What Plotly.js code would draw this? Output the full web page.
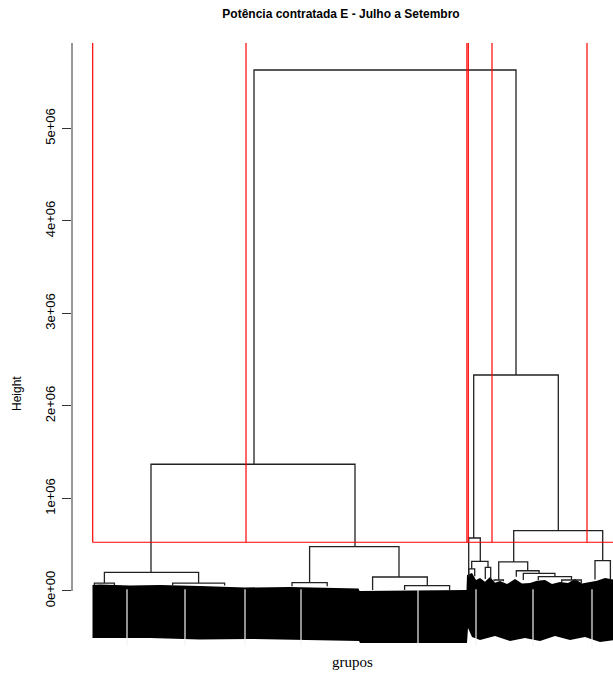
<!DOCTYPE html>
<html>
<head>
<meta charset="utf-8">
<script src="https://cdn.plot.ly/plotly-3.0.1.min.js"></script>
<style>html,body{margin:0;padding:0;background:#fff;overflow:hidden}#chart{width:613px;height:675px}</style>
</head>
<body>
<div id="chart"></div>
<script>
// ---- Dendrogram merges (leaf order position, height) ----
var mergeLeft   = [162, 59, 12.4, 217.6, 280.6, 312.6, 381.7, 376.7, 379.7, 376.7, 393.3, 421.7, 406.7, 424.3, 431.3, 446.3, 469.7, 503, 2.4, 80.6, 200, 402];
var mergeRight  = [424, 263, 106.6, 307, 335.3, 357.6, 466.3, 388.3, 396, 382.7, 398.7, 510.7, 435.7, 447.1, 462.9, 479.5, 489.3, 518.4, 22.4, 132.6, 235.2, 411.4];
var mergeHeight = [5.632e6, 1.370e6, 0.202e6, 0.479e6, 0.151e6, 0.057e6, 2.335e6, 0.573e6, 0.321e6, 0.238e6, 0.256e6, 0.652e6, 0.314e6, 0.219e6, 0.191e6, 0.155e6, 0.119e6, 0.328e6, 0.086e6, 0.086e6, 0.090e6, 0.119e6];
var leftChildHeight  = [1.370e6, 0.202e6, 0.086e6, 0.090e6, 0.010e6, 0.010e6, 0.573e6, 0.150e6, 0.238e6, 0.160e6, 0.130e6, 0.314e6, 0.119e6, 0.155e6, 0.120e6, 0.120e6, 0.085e6, 0.125e6, 0.065e6, 0.060e6, 0.050e6, 0.105e6];
var rightChildHeight = [2.335e6, 0.479e6, 0.086e6, 0.151e6, 0.057e6, 0.010e6, 0.652e6, 0.321e6, 0.256e6, 0.160e6, 0.130e6, 0.328e6, 0.219e6, 0.191e6, 0.155e6, 0.119e6, 0.085e6, 0.125e6, 0.065e6, 0.060e6, 0.050e6, 0.105e6];

// ---- Overlapping leaf labels band (outline) ----
var bandTopX = [0.5, 8, 38, 68, 108, 153, 198, 238, 266.5, 267.5, 374.5, 375, 380, 384, 388, 393, 398, 403, 408, 415, 423, 430, 438, 445, 453, 460, 468, 476, 483, 490, 498, 505, 513, 523];
var bandTopH = [0.065e6, 0.070e6, 0.059e6, 0.065e6, 0.054e6, 0.038e6, 0.043e6, 0.038e6, 0.027e6, 0, 0.011e6, 0.173e6, 0.195e6, 0.120e6, 0.141e6, 0.100e6, 0.151e6, 0.090e6, 0.108e6, 0.075e6, 0.130e6, 0.080e6, 0.086e6, 0.110e6, 0.119e6, 0.075e6, 0.097e6, 0.085e6, 0.130e6, 0.080e6, 0.097e6, 0.110e6, 0.141e6, 0.120e6];
var bandBottomX = [523, 508, 493, 478, 463, 448, 433, 418, 403, 388, 380, 376, 375, 268, 267, 208, 158, 108, 58, 0.5];
var bandBottomH = [-0.530e6, -0.551e6, -0.497e6, -0.530e6, -0.486e6, -0.540e6, -0.508e6, -0.540e6, -0.486e6, -0.530e6, -0.497e6, -0.400e6, -0.562e6, -0.562e6, -0.540e6, -0.530e6, -0.519e6, -0.524e6, -0.508e6, -0.508e6];
var bandGapX = [35, 93, 153, 209, 326, 384, 441, 500];

// ---- Cluster cut (rect.hclust) ----
var cutHeight = 0.527e6;
var clusterBounds = [0.7, 154, 374.9, 376.3, 400, 495];

// ---- Axis ticks ----
var tickValues = [0, 1e6, 2e6, 3e6, 4e6, 5e6];
var tickLabels = ['0e+00', '1e+06', '2e+06', '3e+06', '4e+06', '5e+06'];

var yTop = 5.924e6, yBottom = -0.638e6;
var xMin = -20, xMax = 521;

var dx = [], dy = [];
for (var i = 0; i < mergeLeft.length; i++) {
  dx.push(mergeLeft[i], mergeLeft[i], mergeRight[i], mergeRight[i], null);
  dy.push(leftChildHeight[i], mergeHeight[i], mergeHeight[i], rightChildHeight[i], null);
}
var bx = bandTopX.concat(bandBottomX), by = bandTopH.concat(bandBottomH);
var gx = [], gy = [];
bandGapX.forEach(function (x) { gx.push(x, x, null); gy.push(0.02e6, -0.6e6, null); });
var rx = [], ry = [];
clusterBounds.forEach(function (x) { rx.push(x, x, null); ry.push(cutHeight, 7e6, null); });
rx.push(clusterBounds[0], 600); ry.push(cutHeight, cutHeight);

var traces = [
  {x: bx, y: by, type: 'scatter', mode: 'lines', fill: 'toself', fillcolor: '#000', line: {width: 0, color: '#000'}, hoverinfo: 'skip'},
  {x: gx, y: gy, type: 'scatter', mode: 'lines', line: {width: 1.2, color: '#f4f4f4'}, hoverinfo: 'skip'},
  {x: dx, y: dy, type: 'scatter', mode: 'lines', line: {width: 1.3, color: '#222'}, connectgaps: false, hoverinfo: 'skip'},
  {x: rx, y: ry, type: 'scatter', mode: 'lines', line: {width: 1.2, color: '#ff0000'}, connectgaps: false, hoverinfo: 'skip'}
];

var layout = {
  width: 613, height: 675,
  margin: {l: 72, r: 0, t: 43, b: 25},
  paper_bgcolor: '#fff', plot_bgcolor: '#fff',
  showlegend: false,
  font: {family: 'Liberation Sans, Arial, sans-serif', color: '#000'},
  title: {text: 'Potência contratada E - Julho a Setembro', x: 341 / 613, xref: 'container', xanchor: 'center',
          y: 1 - 14 / 675, yref: 'container', yanchor: 'middle',
          font: {family: 'Liberation Sans, Arial, sans-serif', size: 12, weight: 'bold', color: '#000'}},
  xaxis: {range: [xMin, xMax], visible: false, fixedrange: true},
  yaxis: {range: [yBottom, yTop], showgrid: false, zeroline: false, showline: false,
          ticks: 'outside', ticklen: 9, tickwidth: 1, tickcolor: '#333',
          tickvals: tickValues, ticktext: tickLabels, tickangle: -90,
          ticklabelstandoff: 2,
          tickfont: {family: 'Liberation Sans, Arial, sans-serif', size: 13, color: '#000'}},
  shapes: [
    {type: 'line', xref: 'paper', yref: 'y', x0: 0, x1: 0, y0: 0, y1: yTop, line: {color: '#333', width: 1}}
  ],
  annotations: [
    {text: 'Height', xref: 'paper', yref: 'paper', x: (17 - 72) / 541, y: (650 - 394) / 607,
     xanchor: 'center', yanchor: 'middle', showarrow: false, textangle: -90,
     font: {family: 'Liberation Sans, Arial, sans-serif', size: 12, color: '#000'}},
    {text: 'grupos', xref: 'paper', yref: 'paper', x: (352.5 - 72) / 541, y: (650 - 662) / 607,
     xanchor: 'center', yanchor: 'middle', showarrow: false,
     font: {family: 'Liberation Serif, Times New Roman, serif', size: 15, color: '#000'}}
  ]
};

Plotly.newPlot('chart', traces, layout, {displayModeBar: false, staticPlot: true});
</script>
</body>
</html>
